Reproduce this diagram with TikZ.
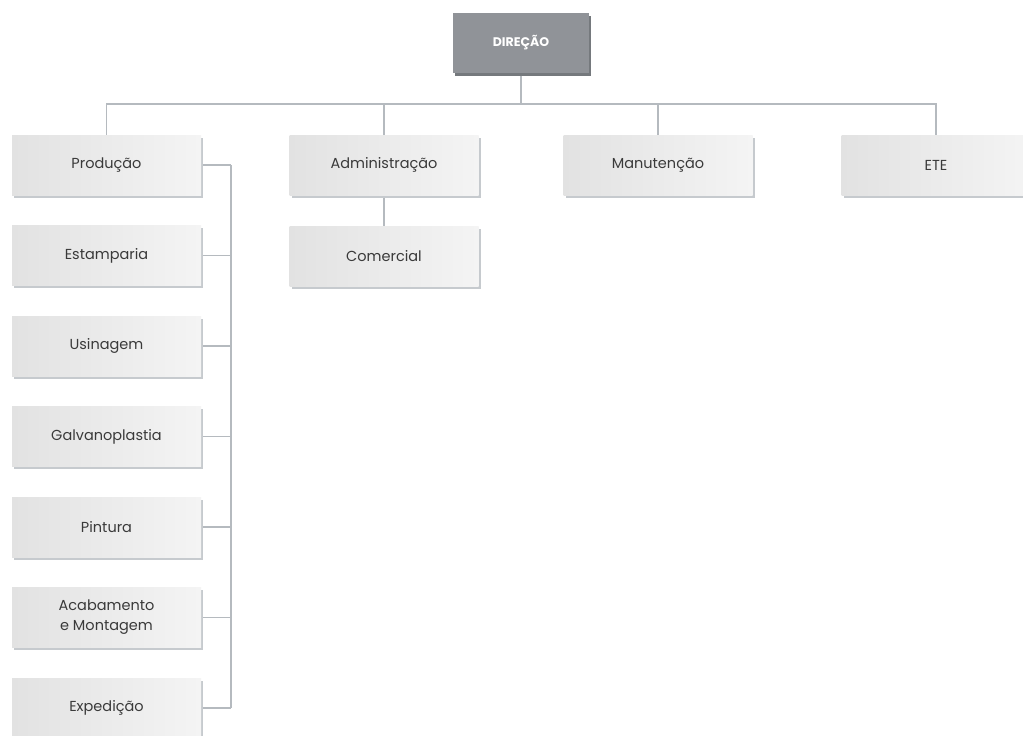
\documentclass[tikz,border=0pt]{standalone}
\usepackage{fontspec}
\setmainfont{Poppins}
\begin{document}
\definecolor{boxL}{HTML}{E2E2E2}
\definecolor{boxR}{HTML}{F4F4F4}
\definecolor{shadowc}{HTML}{C6CACE}
\definecolor{dirfill}{HTML}{909398}
\definecolor{dirshadow}{HTML}{75797D}
\definecolor{linec}{HTML}{B5BABF}
\definecolor{txt}{HTML}{3A3A3A}
\begin{tikzpicture}[x=1pt,y=-1pt,
  orgbox/.style={rectangle, minimum width=189pt, minimum height=60pt, inner sep=0pt,
    left color=boxL, right color=boxR,
    preaction={fill=shadowc, transform canvas={shift={(2pt,-2.5pt)}}},
    font=\fontsize{14.5}{20}\selectfont, text=txt, align=center},
  dirbox/.style={rectangle, minimum width=136pt, minimum height=60pt, inner sep=0pt,
    fill=dirfill,
    preaction={fill=dirshadow, transform canvas={shift={(2pt,-2.5pt)}}},
    font=\bfseries\fontsize{12.5}{14}\selectfont, text=white},
  conn/.style={draw=linec, line width=1.8pt}]
\useasboundingbox (0,0) rectangle (1023,736);
\fill[white] (0,0) rectangle (1023,736);

\node[dirbox] (dir) at (521,43) {DIREÇÃO};

\node[orgbox] (prod) at (106.5,165) {Produção};
\node[orgbox] (adm)  at (384,165) {Administração};
\node[orgbox] (man)  at (658,165) {Manutenção};
\node[orgbox] (ete)  at (936,165) {ETE};
\node[orgbox] (com)  at (384,256) {Comercial};

\node[orgbox] (est)  at (106.5,255.5) {Estamparia};
\node[orgbox] (usi)  at (106.5,346) {Usinagem};
\node[orgbox] (gal)  at (106.5,436.5) {Galvanoplastia};
\node[orgbox] (pin)  at (106.5,527) {Pintura};
\node[orgbox] (aca)  at (106.5,617.5) {Acabamento\\e Montagem};
\node[orgbox] (exp)  at (106.5,708) {Expedição};

\coordinate (bar) at (0,104);
\coordinate (spine) at (231,0);

\draw[conn] (dir.south) ++(0,2.5) -- (dir.south |- bar);
\draw[conn] (prod.north) -- (prod.north |- bar) -- (ete.north |- bar) -- (ete.north);
\draw[conn] (adm.north) -- (adm.north |- bar);
\draw[conn] (man.north) -- (man.north |- bar);
\draw[conn] (adm.south) ++(0,2.5) -- (com.north);

\draw[conn] (prod.east -| spine) -- (exp.east -| spine);
\foreach \n in {prod,est,usi,gal,pin,aca,exp}{
  \draw[conn] (\n.east) ++(2,0) -- (\n.east -| spine);
}
\end{tikzpicture}
\end{document}
